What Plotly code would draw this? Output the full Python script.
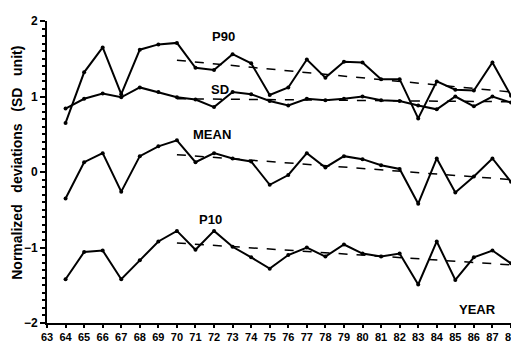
import plotly.graph_objects as go

years = list(range(64, 89))
p90 = [0.65, 1.32, 1.65, 1.03, 1.62, 1.69, 1.71, 1.38, 1.35, 1.56, 1.44, 1.02, 1.12, 1.49, 1.25, 1.46,
       1.45, 1.23, 1.23, 0.71, 1.20, 1.09, 1.08, 1.45, 1.01]
sd = [0.84, 0.97, 1.04, 0.99, 1.12, 1.06, 0.99, 0.96, 0.86, 1.06, 1.03, 0.94, 0.88, 0.97, 0.95, 0.97,
      1.00, 0.95, 0.94, 0.88, 0.83, 1.00, 0.87, 1.00, 0.92]
mean = [-0.35, 0.13, 0.25, -0.26, 0.21, 0.34, 0.42, 0.13, 0.25, 0.18, 0.14, -0.17, -0.04, 0.25, 0.06, 0.21,
        0.17, 0.09, 0.04, -0.42, 0.18, -0.27, -0.06, 0.18, -0.13]
p10 = [-1.42, -1.06, -1.04, -1.42, -1.17, -0.92, -0.78, -1.03, -0.78, -0.99, -1.13, -1.28, -1.10, -1.00, -1.12, -0.96,
       -1.08, -1.12, -1.08, -1.49, -0.92, -1.43, -1.13, -1.04, -1.21]

trend_years = [70, 88]
p90_trend = [1.48, 1.06]
sd_trend = [0.97, 0.93]
mean_trend = [0.23, -0.10]
p10_trend = [-0.94, -1.23]

series_names = ["P90", "SD", "MEAN", "P10"]
label_pos = [(72.5, 1.80), (72.3, 1.09), (71.9, 0.50), (71.8, -0.63)]
tick_years = list(range(63, 89))
y_title = "Normalized   deviations   (SD   unit)"

fig = go.Figure()
for vals in [p90, sd, mean, p10]:
    fig.add_trace(go.Scatter(x=years, y=vals, mode="lines+markers",
                             line=dict(color="black", width=2),
                             marker=dict(color="black", size=4),
                             showlegend=False, cliponaxis=False))
for tr in [p90_trend, sd_trend, mean_trend, p10_trend]:
    fig.add_trace(go.Scatter(x=trend_years, y=tr, mode="lines",
                             line=dict(color="black", width=1.5, dash="dash"),
                             showlegend=False, cliponaxis=False))

FONT = "Liberation Sans, Arial"
font_lbl = dict(family=FONT, size=13, color="black", weight="bold")
for name, (xx, yy) in zip(series_names, label_pos):
    fig.add_annotation(x=xx, y=yy, text=name, showarrow=False, font=font_lbl,
                       xanchor="center", yanchor="middle")
fig.add_annotation(x=86.2, y=-1.82, text="YEAR", showarrow=False, font=font_lbl,
                   xanchor="center", yanchor="middle")
fig.add_annotation(xref="paper", yref="paper", x=-0.065, y=0.53, text=y_title,
                   textangle=-90, showarrow=False, xanchor="center", yanchor="middle",
                   font=dict(family=FONT, size=14, color="black", weight="bold"))

# the page body has an 8px margin, so the figure is 8px smaller and margins shifted
fig.update_layout(
    template="none",
    width=511, height=335,
    margin=dict(l=39, r=8, t=13, b=20, autoexpand=False),
    plot_bgcolor="white", paper_bgcolor="white",
    xaxis=dict(range=[63, 88], tickmode="array", tickvals=tick_years,
               ticktext=[str(y) for y in tick_years], automargin=False,
               showgrid=False, zeroline=False, showline=True, linecolor="black", linewidth=2,
               ticks="outside", ticklen=3, tickwidth=1.5, tickcolor="black",
               tickfont=dict(family=FONT, size=11, color="black", weight="bold"),
               tickangle=0),
    yaxis=dict(range=[-2, 2], tickmode="array", tickvals=[-2, -1, 0, 1, 2],
               ticktext=["\u22122", "\u22121", "0", "1", "2"], automargin=False,
               showgrid=False, zeroline=False, showline=True, linecolor="black", linewidth=2,
               ticks="outside", ticklen=5, tickwidth=1.5, tickcolor="black",
               minor=dict(dtick=0.1, ticks="outside", ticklen=3, tickwidth=1.5, tickcolor="black"),
               tickfont=dict(family=FONT, size=12, color="black", weight="bold")),
)

fig.write_html("out.html")
